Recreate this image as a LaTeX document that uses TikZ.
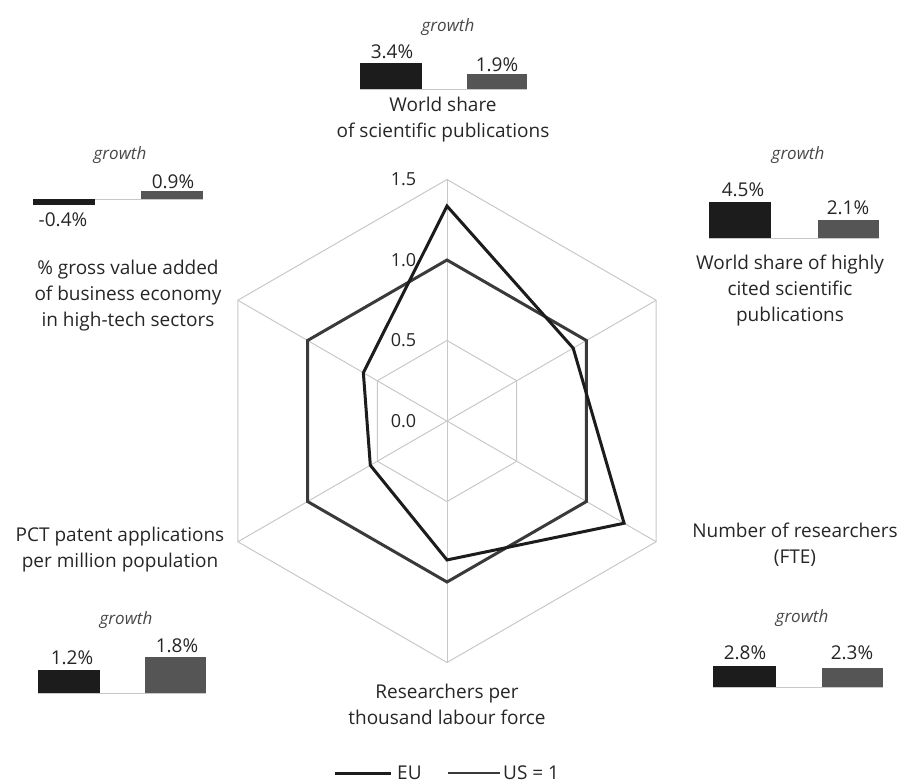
\documentclass[tikz,border=0pt]{standalone}
\usepackage{fontspec}
\setmainfont{Open Sans}

\definecolor{eucol}{HTML}{1C1C1C}
\definecolor{uscol}{HTML}{3A3A3A}
\definecolor{usbarcol}{HTML}{555555}
\definecolor{gridcol}{HTML}{C8C8C8}
\definecolor{txtcol}{HTML}{262626}

\tikzset{
    lbl/.style={font=\fontsize{19}{26}\selectfont, text=txtcol, inner sep=0pt, align=center},
    grw/.style={lbl, font=\fontsize{17}{26}\selectfont\itshape, text=txtcol!85},
    eubar/.style={fill=eucol},
    usbar/.style={fill=usbarcol},
    baseln/.style={draw=gridcol, line width=0.8pt},
    gridln/.style={draw=gridcol, line width=1pt},
    euline/.style={draw=eucol, line width=3pt},
    usline/.style={draw=uscol, line width=3pt},
}

\begin{document}
\begin{tikzpicture}[x=1pt, y=-1pt]
    \useasboundingbox (0,0) rectangle (901,783);

    % radar
    \begin{scope}[shift={(447,421)}, x=161pt, y=161pt]
        \foreach \r in {0.5,1,1.5}
            \draw[gridln] (90:\r) -- (30:\r) -- (-30:\r) -- (-90:\r) -- (-150:\r) -- (150:\r) -- cycle;
        \foreach \a in {90,30,...,-210}
            \draw[gridln] (0,0) -- (\a:1.5);
        \foreach \v [count=\i from 0] in {0.0,0.5,1.0,1.5}
            \node[lbl, anchor=east, font=\fontsize{18}{26}\selectfont] (tick\i) at (-0.19,\i/2) {\v};
        \draw[usline] (90:1) -- (30:1) -- (-30:1) -- (-90:1) -- (-150:1) -- (150:1) -- cycle;
        \draw[euline] (90:1.335) -- (30:0.905) -- (-30:1.27) -- (-90:0.863) -- (-150:0.55) -- (150:0.6) -- cycle;
    \end{scope}

    % top
    \node[grw] (grw1) at (448,27) {growth};
    \draw[baseln] (360,89) -- (527,89);
    \fill[eubar] (360,63) rectangle (422,89);
    \fill[usbar] (467,74) rectangle (527,89);
    \node[lbl] (eu1) at (392,52) {3.4\%};
    \node[lbl] (us1) at (497,65) {1.9\%};
    \node[lbl] (ax1) at (443,120) {World share\\of scientific publications};

    % upper right
    \node[grw] (grw2) at (798,155) {growth};
    \draw[baseln] (709,238) -- (879,238);
    \fill[eubar] (709,202) rectangle (771,238);
    \fill[usbar] (818,220) rectangle (879,238);
    \node[lbl] (eu2) at (743,190) {4.5\%};
    \node[lbl] (us2) at (848,208) {2.1\%};
    \node[lbl] (ax2) at (790,291) {World share of highly\\cited scientific\\publications};

    % lower right
    \node[lbl] (ax3) at (795,545) {Number of researchers\\(FTE)};
    \node[grw] (grw3) at (802,618) {growth};
    \draw[baseln] (713,687) -- (883,687);
    \fill[eubar] (713,666) rectangle (776,687);
    \fill[usbar] (822,668) rectangle (883,687);
    \node[lbl] (eu3) at (745,653) {2.8\%};
    \node[lbl] (us3) at (852,653) {2.3\%};

    % bottom
    \node[lbl] (ax4) at (447,704) {Researchers per\\thousand labour force};

    % lower left
    \node[lbl] (ax5) at (120,550) {PCT patent applications\\per million population};
    \node[grw] (grw5) at (126,620) {growth};
    \draw[baseln] (38,693) -- (206,693);
    \fill[eubar] (38,670) rectangle (100,693);
    \fill[usbar] (145,657) rectangle (206,693);
    \node[lbl] (eu5) at (72,658) {1.2\%};
    \node[lbl] (us5) at (177,646) {1.8\%};

    % upper left
    \node[grw] (grw6) at (120,155) {growth};
    \draw[baseln] (33,199) -- (203,199);
    \fill[eubar] (33,199) rectangle (95,205);
    \fill[usbar] (141,191) rectangle (203,199);
    \node[lbl] (us6) at (173,182) {0.9\%};
    \node[lbl] (eu6) at (63,220) {-0.4\%};
    \node[lbl] (ax6) at (128,296) {\% gross value added\\of business economy\\in high-tech sectors};

    % legend
    \coordinate (legA) at (335,773);
    \coordinate (legB) at (448,773);
    \node[lbl, anchor=west] (legEU) at (397,773) {EU};
    \node[lbl, anchor=west] (legUS) at (503,773) {US = 1};
    \draw[euline, shorten >=6pt] (legA) -- (legEU.west);
    \draw[usline, line width=2.5pt, shorten >=3pt] (legB) -- (legUS.west);

\end{tikzpicture}
\end{document}
